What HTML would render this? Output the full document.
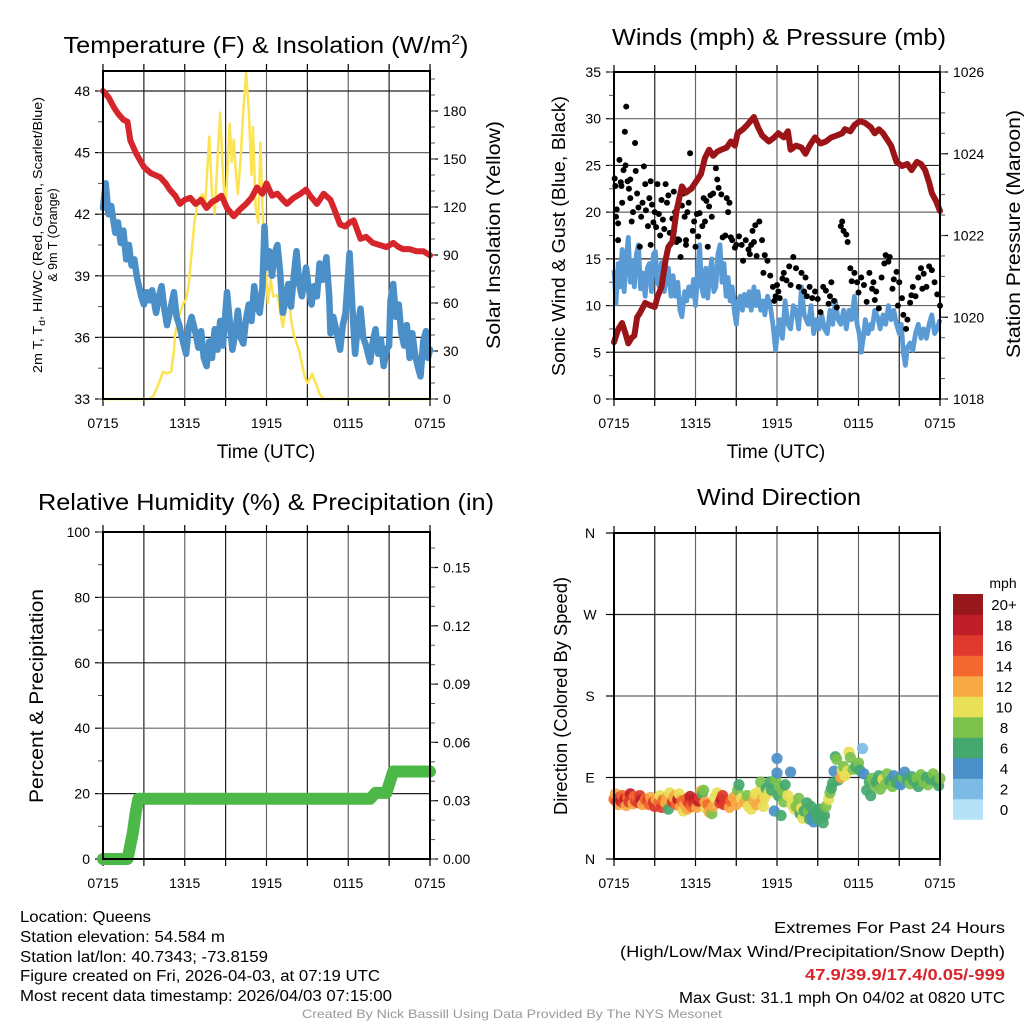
<!DOCTYPE html>
<html><head><meta charset="utf-8"><style>
html,body{margin:0;padding:0;background:#fff;}
svg{display:block;font-family:"Liberation Sans",sans-serif;}
</style></head><body>
<svg id="fig" width="1024" height="1024" viewBox="0 0 1024 1024" xmlns="http://www.w3.org/2000/svg">
<rect width="1024" height="1024" fill="#fff"/>
<g id="layer"></g>
<text x="266" y="53" font-size="23" text-anchor="middle" textLength="405" lengthAdjust="spacingAndGlyphs">Temperature (F) &amp; Insolation (W/m<tspan dy="-9" font-size="14">2</tspan><tspan dy="9">)</tspan></text>
<text x="779" y="45" font-size="23" text-anchor="middle" textLength="334" lengthAdjust="spacingAndGlyphs">Winds (mph) &amp; Pressure (mb)</text>
<text x="266" y="510" font-size="23" text-anchor="middle" textLength="456" lengthAdjust="spacingAndGlyphs">Relative Humidity (%) &amp; Precipitation (in)</text>
<text x="779" y="505" font-size="23" text-anchor="middle" textLength="164" lengthAdjust="spacingAndGlyphs">Wind Direction</text>
<text x="266" y="458" font-size="19" text-anchor="middle">Time (UTC)</text>
<text x="776" y="458" font-size="19" text-anchor="middle">Time (UTC)</text>
<text transform="translate(42,235) rotate(-90)" font-size="12.5" text-anchor="middle" textLength="276" lengthAdjust="spacingAndGlyphs">2m T, T<tspan dy="3" font-size="9">d</tspan><tspan dy="-3">, HI/WC (Red, Green, Scarlet/Blue)</tspan></text>
<text transform="translate(57,235) rotate(-90)" font-size="12.5" text-anchor="middle">&amp; 9m T (Orange)</text>
<text transform="translate(500,235) rotate(-90)" font-size="19" text-anchor="middle" textLength="228" lengthAdjust="spacingAndGlyphs">Solar Insolation (Yellow)</text>
<text transform="translate(565,236) rotate(-90)" font-size="18" text-anchor="middle" textLength="280" lengthAdjust="spacingAndGlyphs">Sonic Wind &amp; Gust (Blue, Black)</text>
<text transform="translate(1020,234) rotate(-90)" font-size="19" text-anchor="middle" textLength="248" lengthAdjust="spacingAndGlyphs">Station Pressure (Maroon)</text>
<text transform="translate(43,696) rotate(-90)" font-size="19" text-anchor="middle" textLength="214" lengthAdjust="spacingAndGlyphs">Percent &amp; Precipitation</text>
<text transform="translate(567,696) rotate(-90)" font-size="18" text-anchor="middle" textLength="238" lengthAdjust="spacingAndGlyphs">Direction (Colored By Speed)</text>
<g font-size="15.5">
<text x="20" y="922" textLength="131" lengthAdjust="spacingAndGlyphs">Location: Queens</text>
<text x="20" y="942" textLength="205" lengthAdjust="spacingAndGlyphs">Station elevation: 54.584 m</text>
<text x="20" y="962" textLength="248" lengthAdjust="spacingAndGlyphs">Station lat/lon: 40.7343; -73.8159</text>
<text x="20" y="981" textLength="360" lengthAdjust="spacingAndGlyphs">Figure created on Fri, 2026-04-03, at 07:19 UTC</text>
<text x="20" y="1001" textLength="372" lengthAdjust="spacingAndGlyphs">Most recent data timestamp: 2026/04/03 07:15:00</text>
</g>
<g font-size="15.5">
<text x="774" y="933" textLength="231" lengthAdjust="spacingAndGlyphs">Extremes For Past 24 Hours</text>
<text x="620" y="957" textLength="385" lengthAdjust="spacingAndGlyphs">(High/Low/Max Wind/Precipitation/Snow Depth)</text>
<text x="805" y="980" fill="#d7262b" font-weight="bold" textLength="200" lengthAdjust="spacingAndGlyphs">47.9/39.9/17.4/0.05/-999</text>
<text x="679" y="1003" textLength="326" lengthAdjust="spacingAndGlyphs">Max Gust: 31.1 mph On 04/02 at 0820 UTC</text>
</g>
<text x="302" y="1018" font-size="12" fill="#999" textLength="420" lengthAdjust="spacingAndGlyphs">Created By Nick Bassill Using Data Provided By The NYS Mesonet</text>
</svg>
<script>
const timeTickLabels = ["0715","1315","1915","0115","0715"];
const tempTicks = [33,36,39,42,45,48];
const insolTicks = [0,30,60,90,120,150,180];
const windTicks = [0,5,10,15,20,25,30,35];
const pressTicks = [1018,1020,1022,1024,1026];
const rhTicks = [0,20,40,60,80,100];
const precipTicks = [0,0.03,0.06,0.09,0.12,0.15];
const dirTickLabels = ["N","E","S","W","N"];
const speedBins = ["0","2","4","6","8","10","12","14","16","18","20+"];
const speedColors = ["#b6e2f8","#7dbbe6","#4a8fc8","#45a86e","#7cc24d","#e8e057","#f7a944","#f2682e","#e0392d","#bf1e28","#97171c"];

const tempRed = [[0,48.0],[0.4,47.7],[0.8,47.2],[1.1,46.9],[1.5,46.6],[1.8,46.5],[2.0,45.6],[2.4,45.0],[3.0,44.3],[3.5,44.0],[4.2,43.8],[4.6,43.5],[4.9,43.2],[5.3,42.9],[5.65,42.5],[6.0,42.7],[6.4,42.8],[6.8,42.5],[7.2,42.7],[7.6,42.3],[8.0,42.6],[8.3,42.7],[8.7,42.9],[9.1,42.3],[9.6,41.9],[10.0,42.2],[10.5,42.5],[10.9,42.8],[11.3,43.3],[11.7,43.0],[12.0,43.5],[12.4,42.9],[12.8,43.0],[13.2,42.7],[13.5,42.5],[14.0,42.8],[14.5,43.0],[14.9,43.2],[15.2,42.9],[15.7,42.5],[16.2,43.0],[16.7,42.7],[17.0,42.2],[17.4,41.5],[17.8,41.4],[18.1,41.6],[18.4,41.7],[18.9,40.8],[19.3,40.9],[19.8,40.6],[20.3,40.5],[20.8,40.4],[21.3,40.6],[21.7,40.4],[22.0,40.3],[22.5,40.3],[23.0,40.2],[23.5,40.2],[24,40.0]];

const tempBlue = [[0,42.3],[0.2,43.5],[0.4,42.0],[0.6,42.4],[0.9,41.1],[1.1,41.6],[1.3,40.6],[1.5,41.2],[1.7,39.8],[1.9,40.5],[2.1,39.5],[2.3,39.8],[2.5,38.9],[2.8,38.0],[3.0,37.6],[3.2,38.2],[3.4,37.8],[3.6,38.3],[3.9,37.2],[4.1,38.0],[4.3,38.5],[4.5,37.4],[4.7,36.6],[4.9,37.2],[5.2,38.2],[5.4,37.0],[5.6,36.6],[5.8,36.0],[6.1,35.2],[6.3,36.5],[6.5,37.0],[6.8,36.2],[7.0,35.5],[7.2,36.3],[7.4,35.0],[7.6,34.6],[7.8,35.8],[8.0,35.0],[8.2,36.4],[8.4,35.4],[8.6,36.8],[8.8,35.6],[9.1,38.2],[9.3,36.8],[9.5,35.4],[9.7,36.2],[9.9,37.3],[10.1,36.0],[10.3,35.7],[10.5,36.9],[10.7,37.6],[10.9,36.8],[11.1,38.5],[11.3,37.5],[11.5,37.2],[11.7,38.4],[11.85,41.4],[12.0,39.4],[12.2,40.2],[12.4,39.0],[12.6,40.1],[12.8,40.5],[13.0,39.2],[13.2,37.2],[13.4,37.8],[13.6,38.6],[13.8,37.5],[14.0,39.0],[14.2,40.2],[14.4,38.6],[14.6,38.0],[14.9,39.4],[15.1,38.4],[15.3,37.6],[15.5,38.5],[15.7,38.0],[15.9,39.6],[16.1,38.8],[16.4,39.9],[16.6,38.0],[16.7,36.2],[16.9,37.0],[17.1,36.4],[17.4,35.4],[17.6,36.6],[17.8,37.2],[18.1,40.1],[18.3,37.5],[18.5,35.2],[18.7,36.6],[18.9,37.4],[19.1,36.0],[19.3,35.6],[19.6,34.8],[19.8,35.8],[20.0,36.4],[20.2,35.2],[20.4,35.9],[20.6,34.6],[20.8,35.4],[21.0,35.6],[21.1,37.8],[21.3,38.6],[21.5,37.0],[21.7,37.6],[21.9,36.2],[22.1,35.6],[22.3,36.6],[22.5,35.0],[22.7,36.2],[22.9,35.2],[23.1,34.6],[23.3,34.1],[23.5,35.8],[23.7,36.3],[23.85,35.0],[24,35.4]];

const insolation = [[0,0],[3.4,0],[3.7,2],[3.9,5.6],[4.2,12],[4.4,17],[4.7,16],[5.0,17],[5.2,30],[5.3,41],[5.6,52],[5.9,60],[6.1,62],[6.3,72],[6.5,91],[6.7,110],[6.9,120],[7.1,126],[7.3,128],[7.5,122],[7.7,150],[7.8,164],[8.0,128],[8.2,116],[8.4,150],[8.6,179],[8.8,140],[9.0,120],[9.1,138],[9.3,172],[9.45,148],[9.6,162],[9.75,142],[9.9,128],[10.1,150],[10.3,180],[10.5,204],[10.7,180],[10.9,140],[11.0,170],[11.2,120],[11.4,110],[11.55,160],[11.7,120],[11.9,87],[12.1,60],[12.3,75],[12.5,64],[12.8,65],[13.0,55],[13.2,45],[13.4,55],[13.6,70],[13.8,50],[14.0,40],[14.2,35],[14.4,30],[14.6,22],[14.8,14],[15.0,10],[15.2,13],[15.35,16],[15.5,12],[15.7,8],[15.9,3],[16.2,0],[24,0]];

const pressure = [[0,1019.39],[0.3,1019.7],[0.6,1019.86],[0.85,1019.6],[1.05,1019.36],[1.3,1019.5],[1.5,1019.55],[1.7,1020.0],[1.9,1020.1],[2.3,1020.35],[2.6,1020.3],[3.0,1020.25],[3.2,1020.5],[3.5,1020.74],[3.8,1021.4],[4.0,1021.72],[4.3,1021.85],[4.6,1022.6],[5.0,1023.2],[5.3,1023.05],[5.7,1023.15],[6.0,1023.3],[6.4,1023.5],[6.7,1023.9],[7.0,1024.1],[7.3,1023.95],[7.6,1024.05],[7.9,1024.1],[8.3,1024.15],[8.6,1024.3],[8.9,1024.2],[9.1,1024.5],[9.5,1024.6],[9.8,1024.7],[10.3,1024.9],[10.6,1024.65],[10.9,1024.45],[11.4,1024.3],[11.8,1024.4],[12.1,1024.5],[12.5,1024.4],[12.8,1024.55],[13.0,1024.1],[13.4,1024.2],[13.8,1024.15],[14.1,1024.0],[14.4,1024.2],[14.8,1024.4],[15.2,1024.25],[15.6,1024.3],[16.0,1024.4],[16.4,1024.45],[16.8,1024.5],[17.0,1024.6],[17.4,1024.55],[17.7,1024.7],[18.1,1024.8],[18.5,1024.75],[18.9,1024.65],[19.2,1024.5],[19.5,1024.6],[19.8,1024.5],[20.1,1024.35],[20.4,1024.2],[20.8,1023.8],[21.2,1023.7],[21.6,1023.75],[21.9,1023.6],[22.3,1023.8],[22.6,1023.75],[22.9,1023.6],[23.2,1023.3],[23.4,1023.04],[23.7,1022.85],[24,1022.6]];

const windSpeed = [[0,13.8],[0.15,10.2],[0.3,14.5],[0.45,12.0],[0.6,16.0],[0.75,11.5],[0.9,15.0],[1.05,17.3],[1.2,12.5],[1.35,14.8],[1.5,12.0],[1.65,15.5],[1.8,16.5],[1.95,11.8],[2.1,13.5],[2.3,11.0],[2.45,14.0],[2.6,14.5],[2.75,11.5],[2.9,15.5],[3.05,15.8],[3.2,12.5],[3.35,12.0],[3.5,14.6],[3.7,11.5],[3.85,13.0],[4.0,14.0],[4.2,11.0],[4.35,13.2],[4.5,11.0],[4.7,12.5],[4.85,9.5],[5.0,8.8],[5.2,11.5],[5.35,10.5],[5.5,12.0],[5.7,11.0],[5.85,12.8],[6.0,10.0],[6.15,13.0],[6.3,16.5],[6.45,12.0],[6.6,11.0],[6.75,14.0],[6.9,10.8],[7.05,13.5],[7.2,15.0],[7.35,11.5],[7.5,12.0],[7.65,15.5],[7.8,16.5],[7.95,12.5],[8.1,14.5],[8.25,11.0],[8.4,13.0],[8.55,10.5],[8.7,12.0],[8.85,9.5],[9.0,8.0],[9.15,10.5],[9.3,11.0],[9.45,9.5],[9.6,11.2],[9.8,10.0],[9.95,11.5],[10.1,9.5],[10.3,12.0],[10.45,10.0],[10.6,11.5],[10.8,9.5],[11.0,10.5],[11.1,9.0],[11.3,11.0],[11.5,10.0],[11.7,8.0],[11.9,5.2],[12.05,7.5],[12.2,8.5],[12.4,6.5],[12.6,10.5],[12.8,8.0],[13.0,7.5],[13.2,10.0],[13.4,9.5],[13.6,7.5],[13.8,12.0],[14.0,9.0],[14.3,8.0],[14.5,10.0],[14.7,7.0],[14.9,8.5],[15.1,7.5],[15.3,9.0],[15.5,7.5],[15.7,7.0],[15.9,9.5],[16.1,8.0],[16.3,10.5],[16.5,8.5],[16.7,8.0],[16.9,9.5],[17.1,7.5],[17.3,9.5],[17.5,8.5],[17.7,11.0],[17.9,8.0],[18.05,7.0],[18.2,5.0],[18.35,6.5],[18.5,8.5],[18.7,7.0],[18.9,8.0],[19.0,7.5],[19.2,9.5],[19.4,8.8],[19.6,7.5],[19.8,9.0],[20.0,8.0],[20.2,10.0],[20.4,8.5],[20.6,9.5],[20.8,8.0],[21.0,7.0],[21.15,8.0],[21.3,5.0],[21.45,3.6],[21.6,5.5],[21.8,6.0],[22.0,5.2],[22.2,7.0],[22.4,8.0],[22.6,6.5],[22.8,7.5],[23.0,6.5],[23.2,8.0],[23.4,9.0],[23.6,7.0],[23.8,7.5],[24,8.5]];

const windGust = [[0.05,23.6],[0.1,22.8],[0.15,19.5],[0.2,20.3],[0.3,18.8],[0.4,25.6],[0.5,23.2],[0.55,22.8],[0.6,21.0],[0.7,24.5],[0.8,28.6],[0.9,31.3],[0.85,25.0],[1.0,23.3],[1.1,22.5],[1.2,23.5],[1.3,19.0],[1.4,20.0],[1.55,27.4],[1.6,24.4],[1.7,22.0],[1.8,20.5],[1.9,16.3],[2.0,19.5],[2.1,21.0],[2.2,24.9],[2.3,23.0],[2.35,20.2],[2.5,18.5],[2.6,21.5],[2.7,23.3],[2.8,20.8],[2.9,18.9],[3.0,20.0],[3.1,18.4],[3.2,23.0],[3.3,19.8],[3.4,17.5],[3.5,21.3],[3.6,19.2],[3.7,18.2],[3.8,23.0],[3.9,21.0],[4.0,21.8],[4.1,17.8],[4.3,19.3],[4.4,22.2],[4.5,20.0],[4.6,16.8],[4.7,17.1],[4.9,15.2],[5.0,20.7],[5.1,22.0],[5.2,19.5],[5.3,17.0],[5.4,20.0],[5.5,21.0],[5.6,26.3],[5.7,22.5],[5.8,18.0],[5.9,19.0],[6.0,16.3],[6.1,19.8],[6.2,17.4],[6.3,19.9],[6.5,18.5],[6.6,21.5],[6.7,19.0],[6.8,21.2],[6.9,16.3],[7.0,20.6],[7.1,21.8],[7.2,19.5],[7.3,22.0],[7.5,24.7],[7.6,23.5],[7.7,22.6],[7.9,21.9],[8.0,17.3],[8.2,17.5],[8.3,21.5],[8.4,20.0],[8.5,21.0],[8.6,17.3],[8.7,17.0],[8.9,16.2],[9.0,16.5],[9.2,17.4],[9.4,16.5],[9.5,14.8],[9.7,17.0],[9.9,16.0],[10.0,15.5],[10.2,18.0],[10.3,16.8],[10.4,18.6],[10.5,15.3],[10.7,19.0],[10.9,17.0],[11.0,13.5],[11.1,15.4],[11.3,14.8],[11.5,13.2],[11.7,12.0],[11.8,10.5],[11.9,11.0],[12.0,12.2],[12.2,10.8],[12.4,12.9],[12.5,13.5],[12.7,12.7],[12.9,14.2],[13.0,12.2],[13.2,15.2],[13.4,14.0],[13.6,12.0],[13.8,13.5],[14.0,11.5],[14.2,11.0],[14.4,12.0],[14.6,10.8],[14.8,11.5],[15.0,10.7],[15.2,9.3],[15.4,12.0],[15.6,11.6],[15.8,10.2],[16.0,12.5],[16.2,10.5],[16.4,9.8],[16.7,18.5],[16.8,19.0],[16.9,18.0],[17.1,17.6],[17.2,16.8],[17.4,14.0],[17.5,12.6],[17.7,13.5],[17.9,12.5],[18.0,11.4],[18.2,13.0],[18.4,12.2],[18.6,10.4],[18.8,13.5],[19.0,11.8],[19.2,10.6],[19.3,11.5],[19.5,9.7],[19.7,13.0],[19.9,14.5],[20.0,15.4],[20.2,14.7],[20.3,15.2],[20.5,11.8],[20.6,12.8],[20.8,13.6],[21.0,12.5],[21.2,10.8],[21.3,9.0],[21.5,7.5],[21.6,8.5],[21.8,10.3],[21.9,11.1],[22.0,12.0],[22.2,11.0],[22.4,13.0],[22.6,14.0],[22.8,13.4],[23.0,12.0],[23.2,14.2],[23.4,13.8],[23.6,12.5],[23.8,11.2],[24.0,10.0],[0.3,17.0],[1.2,21.5],[2.7,16.5],[4.8,17.0],[5.3,16.5],[10.1,16.5],[12.1,11.5],[14.1,13.0],[15.9,11.0],[19.1,12.5],[20.9,10.0],[22.7,11.8]];

const precip = [[0,0],[1.8,0],[2.0,0.007],[2.2,0.014],[2.4,0.024],[2.6,0.031],[19.6,0.031],[20.0,0.034],[20.8,0.034],[21.3,0.045],[24,0.045]];

const windDir = [[0.0,66,15],[0.1,72,13],[0.2,63,17],[0.3,60,13],[0.4,68,16],[0.5,64,18],[0.6,70,15],[0.7,62,17],[0.8,66,19],[0.9,59,13],[1.0,68,14],[1.1,63,17],[1.2,72,18],[1.3,66,16],[1.4,61,12],[1.5,69,15],[1.6,64,17],[1.7,67,14],[1.8,62,16],[1.9,70,17],[2.0,65,18],[2.1,60,13],[2.3,66,15],[2.5,64,17],[2.6,60,14],[2.7,68,13],[2.9,63,16],[3.0,58,17],[3.1,66,13],[3.3,62,14],[3.4,70,11],[3.5,57,16],[3.6,65,14],[3.8,62,13],[3.9,68,12],[4.0,55,7],[4.1,73,10],[4.3,63,16],[4.4,68,12],[4.5,70,13],[4.6,60,14],[4.7,66,19],[4.8,72,11],[4.9,58,12],[5.0,64,14],[5.1,53,11],[5.2,60,13],[5.3,66,15],[5.4,55,13],[5.5,62,16],[5.6,69,18],[5.7,58,14],[5.8,63,17],[5.9,66,18],[6.0,61,16],[6.1,57,13],[6.2,64,19],[6.3,68,16],[6.4,75,13],[6.5,72,7],[6.6,76,8],[6.7,63,13],[6.8,56,11],[6.9,60,14],[7.0,52,13],[7.2,50,8],[7.3,58,12],[7.4,68,11],[7.6,73,11],[7.8,62,17],[7.9,66,18],[8.0,70,17],[8.1,60,16],[8.3,63,17],[8.5,57,13],[8.6,64,15],[8.8,68,13],[9.0,60,13],[9.1,76,8],[9.2,82,7],[9.4,67,10],[9.6,63,12],[9.8,70,9],[9.9,58,11],[10.1,55,10],[10.3,65,12],[10.4,72,10],[10.5,60,12],[10.7,75,10],[10.8,85,8],[10.9,66,12],[11.0,58,11],[11.1,68,11],[11.2,78,7],[11.4,73,10],[11.5,85,7],[11.6,76,6],[11.8,53,4],[11.9,88,9],[12.0,111,4],[12.0,95,4],[12.1,70,7],[12.2,80,8],[12.3,48,6],[12.4,75,8],[12.5,63,9],[12.6,82,7],[12.8,70,10],[13.0,96,4],[13.1,60,10],[13.2,64,11],[13.3,55,10],[13.4,58,8],[13.6,67,9],[13.7,50,7],[13.8,56,10],[13.9,45,11],[14.0,53,6],[14.2,62,7],[14.3,52,8],[14.4,44,6],[14.5,58,7],[14.6,47,5],[14.7,41,4],[14.8,52,6],[14.9,49,7],[15.0,44,6],[15.1,55,7],[15.3,46,6],[15.4,40,6],[15.5,48,7],[15.6,58,8],[15.8,66,10],[15.9,73,8],[16.0,78,7],[16.1,84,6],[16.2,97,4],[16.3,113,6],[16.4,110,8],[16.5,87,7],[16.7,90,12],[16.8,98,10],[16.9,102,8],[17.0,92,11],[17.2,97,10],[17.3,118,10],[17.4,112,8],[17.6,99,8],[17.8,102,7],[18.0,106,8],[18.1,98,6],[18.3,122,2],[18.4,94,4],[18.6,76,6],[18.8,85,7],[18.9,70,6],[19.0,89,8],[19.2,81,9],[19.3,85,6],[19.5,92,7],[19.6,77,8],[19.8,88,10],[20.0,83,9],[20.1,94,8],[20.3,86,6],[20.5,80,8],[20.6,92,4],[20.8,84,6],[21.0,88,7],[21.1,82,5],[21.3,90,8],[21.4,96,4],[21.6,87,6],[21.8,83,8],[21.9,91,6],[22.1,86,7],[22.3,89,8],[22.4,80,6],[22.6,93,9],[22.8,85,8],[23.0,90,7],[23.1,82,9],[23.3,88,6],[23.5,94,8],[23.7,86,7],[23.9,81,6],[24.0,89,8]];

const NS = "http://www.w3.org/2000/svg";
const layer = document.getElementById('layer');
function mk(tag, attrs, parent){ const e=document.createElementNS(NS,tag); for(const k in attrs) e.setAttribute(k,attrs[k]); (parent||layer).appendChild(e); return e; }
function txt(x,y,s,size,anchor,parent){ const t=mk('text',{x:x,y:y,'font-size':size,'text-anchor':anchor},parent); t.textContent=s; return t; }

const P1={l:103,r:430,t:71,b:399};
const P2={l:614,r:940,t:72,b:399};
const P3={l:103,r:430,t:532,b:859};
const P4={l:614,r:940,t:533,b:859};
const xH=(P,h)=>P.l+h/24*(P.r-P.l);
const yTemp=v=>399-(v-33)*(61.6/3);
const yIns=v=>399-v*1.6;
const yWind=v=>399-v*9.343;
const yPres=v=>399-(v-1018)*40.875;
const yRH=v=>859-v*3.27;
const yPrc=v=>859-v/0.03*58.3;
const yDir=v=>859-v*(326/360);

function frame(P,name,hLines){
  const g=mk('g',{});
  
  
  for(let i=1;i<8;i++){ const x=xH(P,i*3);
    const l=mk('line',{x1:x,x2:x,y1:P.t,y2:P.b,stroke:(i%2?'#222':'#666'),'stroke-width':1.2},g);
    
    
  }
  hLines.forEach((y,i)=>{ const l=mk('line',{x1:P.l,x2:P.r,y1:y,y2:y,stroke:(i%2?'#666':'#222'),'stroke-width':1.2},g);
    
    
  });
  for(let i=0;i<=8;i++){ const x=xH(P,i*3);
    mk('line',{x1:x,x2:x,y1:P.b,y2:P.b+7,stroke:'#000','stroke-width':1.2},g);
    mk('line',{x1:x,x2:x,y1:P.t,y2:P.t-7,stroke:'#000','stroke-width':1.2},g);
  }
  timeTickLabels.forEach((s,i)=>{ const t=txt(xH(P,i*6),P.b+29,s,14,'middle',g);
    
    
  });
  return g;
}
function border(P){
  const r=mk('rect',{x:P.l,y:P.t,width:P.r-P.l,height:P.b-P.t,fill:'none',stroke:'#000','stroke-width':2});
  
  
}
function yAxis(P,ticks,fy,fmt,side,minorStep,lo,hi){
  const g=mk('g',{});
  
  
  const x=side==='left'?P.l:P.r, d=side==='left'?-1:1;
  ticks.forEach(v=>{ const y=fy(v);
    mk('line',{x1:x,x2:x+d*8,y1:y,y2:y,stroke:'#000','stroke-width':1.2},g);
    const t=txt(side==='left'?x-13:x+13,y+5,fmt(v),14,side==='left'?'end':'start',g);
    
    
  });
  if(minorStep){ for(let v=lo;v<=hi+1e-9;v+=minorStep){ const y=fy(v); if(y<P.t-1||y>P.b+1) continue;
    mk('line',{x1:x,x2:x+d*5,y1:y,y2:y,stroke:'#555','stroke-width':1},g);} }
}
function pathFrom(P,arr,fy){ return arr.map((p,i)=>(i?'L':'M')+xH(P,p[0]).toFixed(1)+' '+fy(p[1]).toFixed(1)).join(' '); }

frame(P1,'temperature',tempTicks.slice(1).map(yTemp));
yAxis(P1,tempTicks,yTemp,v=>String(v),'left',1.5,33,49);
yAxis(P1,insolTicks,yIns,v=>String(v),'right',10,0,200);
let e;
e=mk('path',{d:pathFrom(P1,insolation,yIns),fill:'none',stroke:'#fbe352','stroke-width':2.5,'stroke-linejoin':'round'});


e=mk('path',{d:pathFrom(P1,tempBlue,yTemp),fill:'none',stroke:'#4a8fc8','stroke-width':6.5,'stroke-linejoin':'round','stroke-linecap':'round'});


e=mk('path',{d:pathFrom(P1,tempRed,yTemp),fill:'none',stroke:'#d7262b','stroke-width':6,'stroke-linejoin':'round','stroke-linecap':'round'});


border(P1);

frame(P2,'winds',windTicks.slice(1,-1).map(yWind));
yAxis(P2,windTicks,yWind,v=>String(v),'left',2.5,0,35);
yAxis(P2,pressTicks,yPres,v=>String(v),'right',0.5,1018,1026);
e=mk('path',{d:pathFrom(P2,windSpeed,yWind),fill:'none',stroke:'#5b9bd5','stroke-width':4.8,'stroke-linejoin':'round'});


windGust.forEach(p=>{ const c=mk('circle',{cx:xH(P2,p[0]),cy:yWind(p[1]),r:3,fill:'#000'});
  
  
});
e=mk('path',{d:pathFrom(P2,pressure,yPres),fill:'none',stroke:'#9b1518','stroke-width':6,'stroke-linejoin':'round','stroke-linecap':'round'});


border(P2);

frame(P3,'humidity',rhTicks.slice(1,-1).map(yRH));
yAxis(P3,rhTicks,yRH,v=>String(v),'left',10,0,100);
yAxis(P3,precipTicks,yPrc,v=>v.toFixed(2),'right',0.01,0,0.16);
e=mk('path',{d:pathFrom(P3,precip,yPrc),fill:'none',stroke:'#4cb848','stroke-width':12,'stroke-linejoin':'round','stroke-linecap':'round'});


border(P3);

frame(P4,'direction',[90,180,270].map(yDir));
(function(){ const g=mk('g',{});
  
  
  dirTickLabels.forEach((s,i)=>{ const y=yDir(i*90);
    mk('line',{x1:P4.l,x2:P4.l-8,y1:y,y2:y,stroke:'#000','stroke-width':1.2},g);
    const t=txt(590,y+5,s,14,'middle',g);
    
    
  });
})();
function colorFor(s){ let i=Math.floor(s/2); if(i>10) i=10; if(i<0) i=0; return speedColors[i]; }
windDir.forEach(p=>{ const c=mk('circle',{cx:xH(P4,p[0]),cy:yDir(p[1]),r:5.6,fill:colorFor(p[2]),'fill-opacity':0.92});
  
  
});
border(P4);

(function(){ const g=mk('g',{});
  
  
  const t0=txt(1003,588,'mph',14,'middle',g);
  
  
  const n=speedBins.length, h=20.5;
  speedBins.forEach((s,i)=>{ const k=n-1-i; const y=594+k*h;
    const r=mk('rect',{x:953,y:y,width:30,height:h+0.3,fill:speedColors[i]},g);
    
    
    const t=txt(1004,y+h/2+5.5,s,15,'middle',g);
    
    
  });
})();
</script>
</body></html>
